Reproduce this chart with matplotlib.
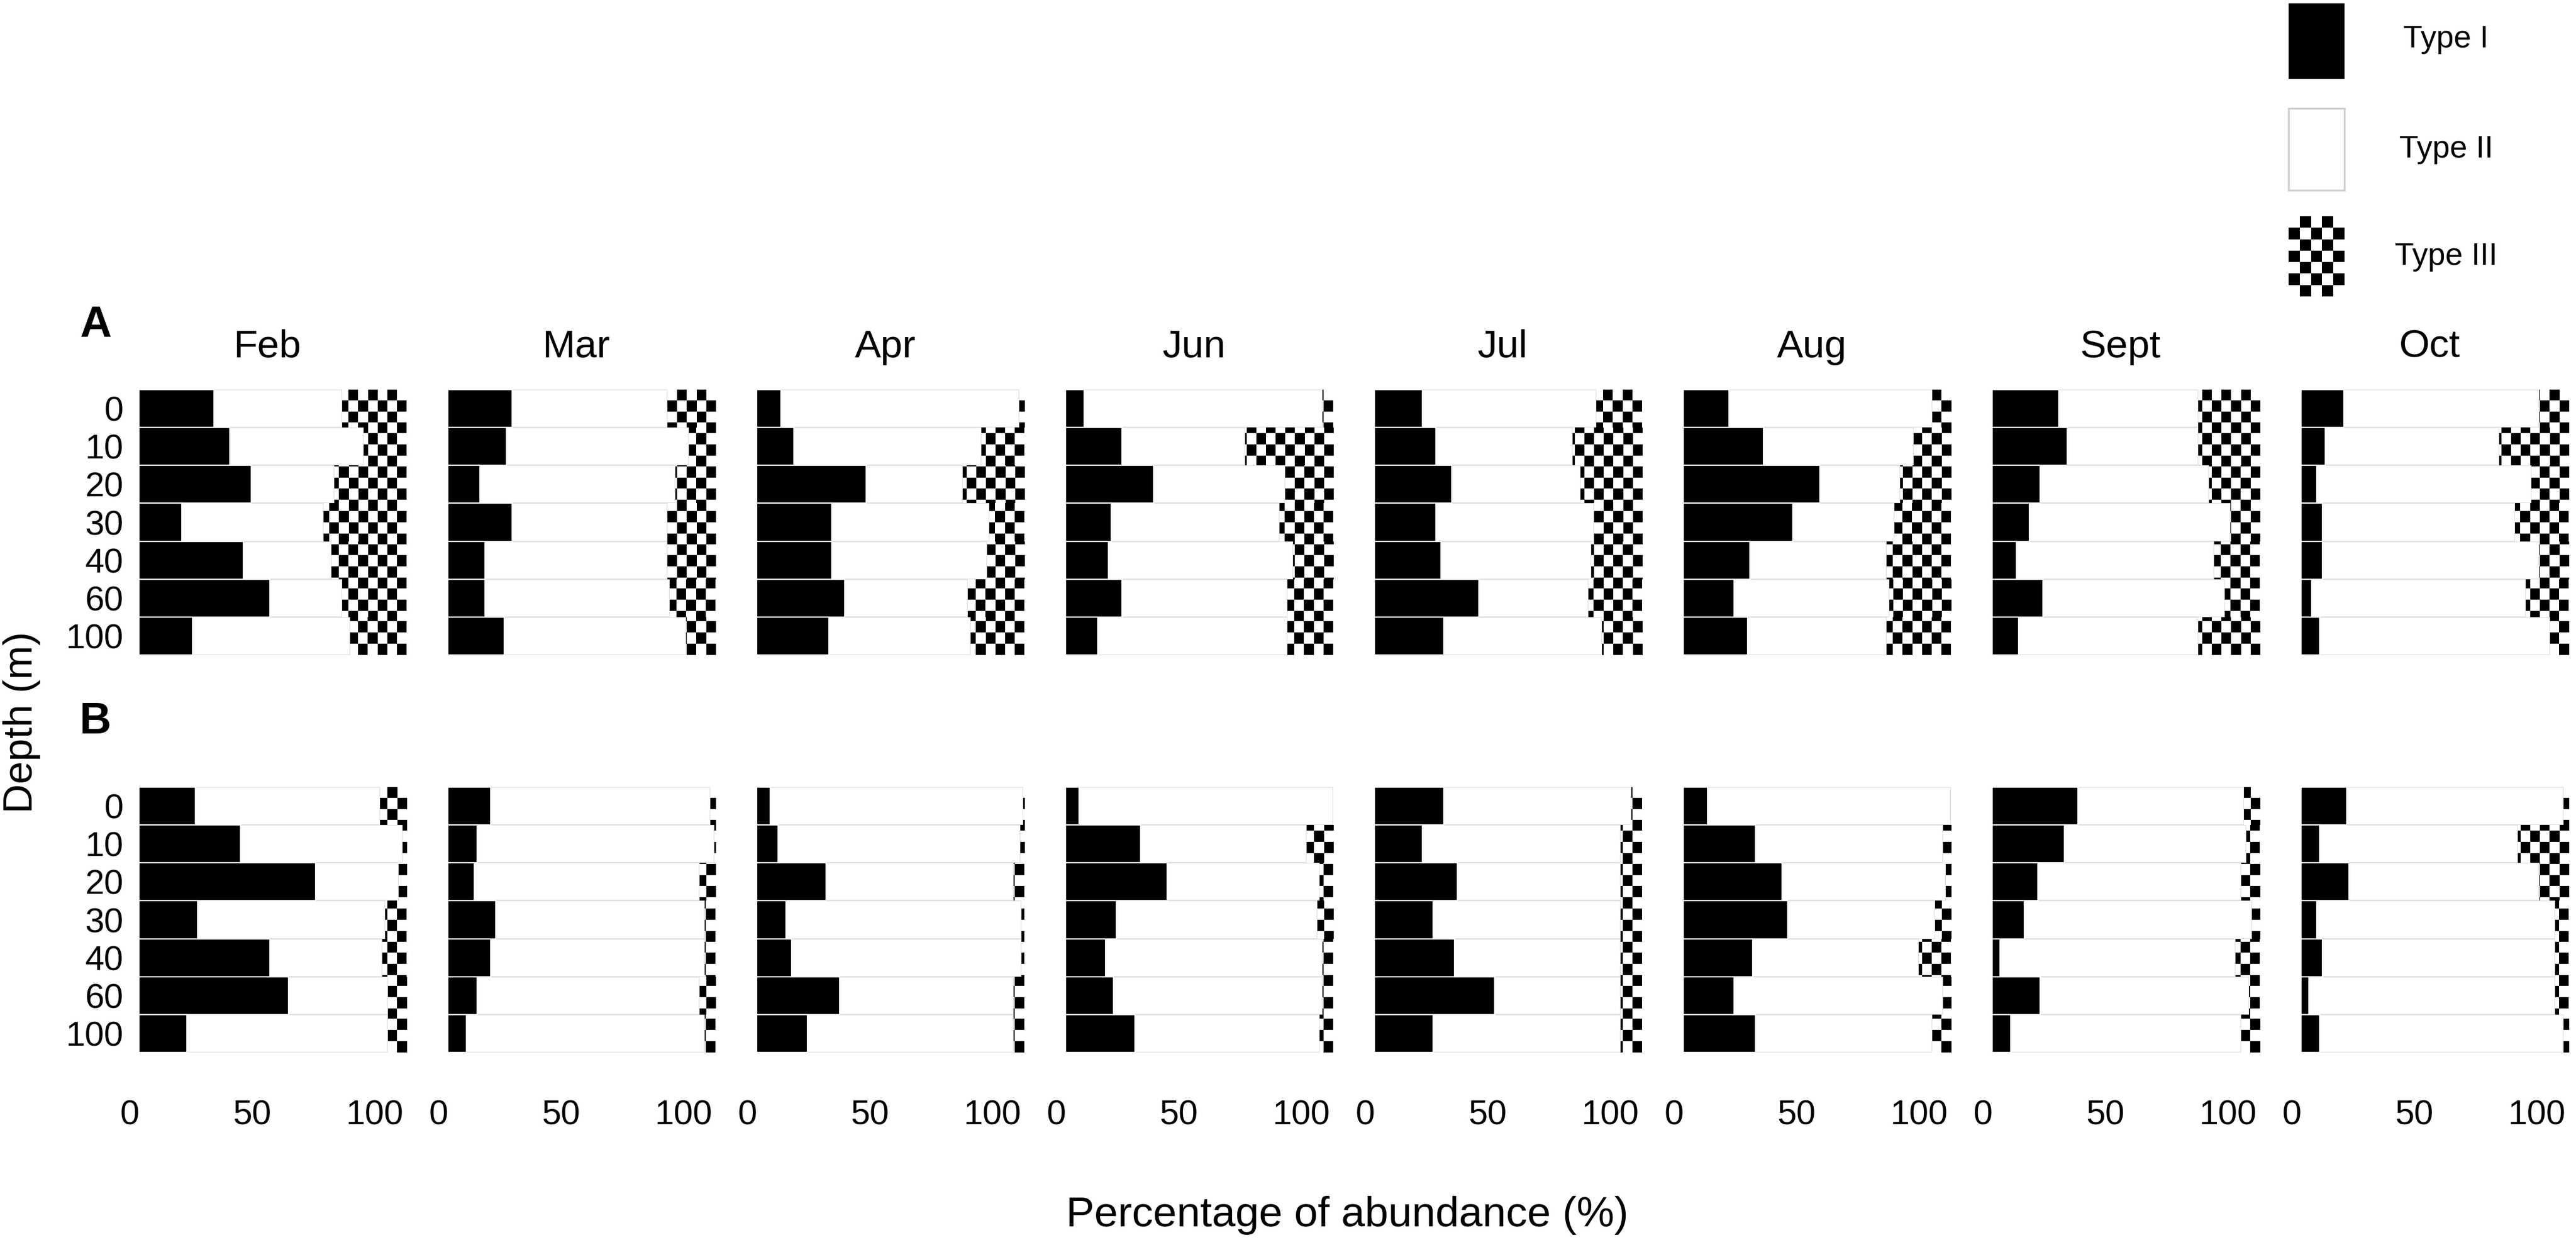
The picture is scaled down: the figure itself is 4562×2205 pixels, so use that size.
import numpy as np
import matplotlib.pyplot as plt
from matplotlib.patches import Rectangle

plt.rcParams['font.family'] = ['Liberation Sans', 'DejaVu Sans']

months = ['Feb', 'Mar', 'Apr', 'Jun', 'Jul', 'Aug', 'Sept', 'Oct']
depths = ['0', '10', '20', '30', '40', '60', '100']

# panel A, % of Type I / Type III per depth (Type II is the rest)
typeI_A = [
    [28, 34, 42, 16, 39, 49, 20],   # Feb
    [24, 22, 12, 24, 14, 14, 21],   # Mar
    [9, 14, 41, 28, 28, 33, 27],    # Apr
    [7, 21, 33, 17, 16, 21, 12],    # Jun
    [18, 23, 29, 23, 25, 39, 26],   # Jul
    [17, 30, 51, 41, 25, 19, 24],   # Aug
    [25, 28, 18, 14, 9, 19, 10],    # Sept
    [16, 9, 6, 8, 8, 4, 7],         # Oct
]
typeIII_A = [
    [24, 16, 27, 31, 28, 24, 21],
    [18, 10, 15, 18, 18, 17, 11],
    [2, 16, 23, 13, 14, 21, 20],
    [4, 33, 18, 20, 15, 17, 17],
    [17, 26, 23, 18, 19, 20, 15],
    [7, 14, 19, 21, 24, 23, 24],
    [23, 23, 19, 11, 17, 13, 23],
    [11, 26, 14, 20, 11, 16, 7],
]

# panel B
typeI_B = [
    [21, 38, 66, 22, 49, 56, 18],
    [16, 11, 10, 18, 16, 11, 7],
    [5, 8, 26, 11, 13, 31, 19],
    [5, 28, 38, 19, 15, 18, 26],
    [26, 18, 31, 22, 30, 45, 22],
    [9, 27, 37, 39, 26, 19, 27],
    [32, 27, 17, 12, 3, 18, 7],
    [17, 7, 18, 6, 8, 3, 7],
]
typeIII_B = [
    [10, 1.5, 3, 8, 9, 7, 7],
    [2, 0.5, 6, 4, 4, 6, 4],
    [0.5, 1.5, 4, 1, 1, 4, 4],
    [0, 10, 5, 6, 4, 4, 5],
    [4, 8, 8, 8, 8, 8, 8],
    [0, 3, 2, 6, 12, 3, 7],
    [6, 5, 7, 3, 9, 4, 7],
    [2, 19, 11, 5, 5, 5, 2],
]

W, H, DPI = 4562, 2205, 200
fig = plt.figure(figsize=(W / DPI, H / DPI), dpi=DPI)


def checker(nx, ny):
    return (np.indices((ny, nx)).sum(axis=0) % 2).astype(float)


# tick labels of the original sit on a slightly different scale than the bars
def fwd(x):
    return (x + 3.4) * 100 / 91.4


def inv(s):
    return s * 0.914 - 3.4


def draw_panel(ax, t1, t3, show_y, show_x):
    y = np.arange(len(depths))
    t1 = np.array(t1, dtype=float)
    t3 = np.array(t3, dtype=float)
    t2 = 100 - t1 - t3
    ax.barh(y, t2, left=t1, height=1.0, color='white',
            edgecolor='#dedede', linewidth=0.8, zorder=1)
    bars3 = ax.barh(y, t3, left=100 - t3, height=1.0, color='none',
                    edgecolor='none', zorder=2)
    pattern = checker(29, 24)
    for b in bars3:
        im = ax.imshow(pattern, cmap='gray_r', vmin=0, vmax=1,
                       extent=(-4.4, 100, 6.5, -0.5), aspect='auto',
                       interpolation='nearest', zorder=2)
        im.set_clip_path(b)
    ax.barh(y, t1, height=1.0, color='black', edgecolor='white',
            linewidth=0.8, zorder=3)

    ax.set_xlim(-4, 100)
    ax.set_ylim(6.5, -0.5)
    for s in ax.spines.values():
        s.set_visible(False)
    ax.set_xticks([])
    ax.set_yticks(y)
    if show_y:
        ax.set_yticklabels(depths, fontsize=22)
    else:
        ax.set_yticklabels([])
    ax.tick_params(length=0, pad=3)
    if show_x:
        sec = ax.secondary_xaxis('bottom', functions=(fwd, inv))
        sec.set_xticks([0, 50, 100])
        sec.tick_params(length=0, pad=30, labelsize=22)
        sec.spines['bottom'].set_visible(False)


left0, pitch, width = 227 / W, 547 / W, 493 / W
rows = [(1 - 1160 / H, typeI_A, typeIII_A, False),
        (1 - 1864 / H, typeI_B, typeIII_B, True)]
for bottom, t1s, t3s, is_bottom in rows:
    for i, m in enumerate(months):
        ax = fig.add_axes([left0 + i * pitch, bottom, width, 470 / H])
        draw_panel(ax, t1s[i], t3s[i], i == 0, is_bottom)
        if not is_bottom:
            ax.text(0.5, 1.16, m, transform=ax.transAxes, ha='center',
                    va='center', fontsize=25)

fig.text(0.037, 0.739, 'A', fontsize=28, fontweight='bold', ha='center', va='center')
fig.text(0.037, 0.42, 'B', fontsize=28, fontweight='bold', ha='center', va='center')
fig.text(0.0085, 0.42, 'Depth (m)', rotation=90, fontsize=26, ha='center', va='center')
fig.text(0.523, 0.024, 'Percentage of abundance (%)', fontsize=27, ha='center', va='center')

# legend, drawn in figure pixel units
lax = fig.add_axes([0, 0, 1, 1], zorder=5)
lax.set_xlim(0, W)
lax.set_ylim(H, 0)
lax.axis('off')
lax.add_patch(Rectangle((4053, 6), 99, 134, facecolor='black', edgecolor='none'))
lax.add_patch(Rectangle((4053, 192), 99, 145, facecolor='white',
                        edgecolor='#cfcfcf', linewidth=1.2))
r3 = Rectangle((4053, 383), 99, 142, facecolor='none', edgecolor='none')
lax.add_patch(r3)
im = lax.imshow(checker(5, 7), cmap='gray_r', vmin=0, vmax=1,
                extent=(4053, 4152, 525, 383), aspect='auto', interpolation='nearest')
im.set_clip_path(r3)
lax.set_xlim(0, W)
lax.set_ylim(H, 0)
for label, yy in zip(['Type I', 'Type II', 'Type III'], [70, 265, 455]):
    lax.text(4332, yy, label, fontsize=20, ha='center', va='center')

fig.savefig('out.png', dpi=DPI)
